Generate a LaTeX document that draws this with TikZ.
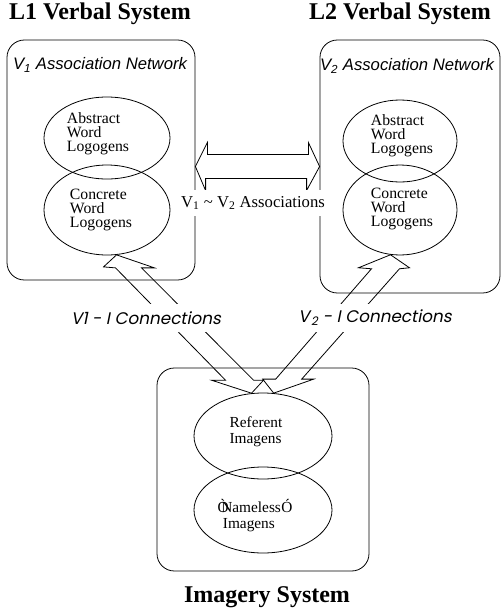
\documentclass[tikz,border=0pt]{standalone}
\usepackage{fontspec}
\setmainfont{Liberation Serif}
\setsansfont{Liberation Sans}
\newfontfamily\connfont[FakeSlant=0.2]{Poppins}
\usetikzlibrary{shapes.geometric,calc}

\tikzset{every picture/.style={line width=0.6pt}}
\tikzset{
  sysbox/.style={draw, rounded corners=13pt, inner sep=0pt},
  logo/.style={draw, ellipse, inner sep=0pt},
  logotext/.style={inner sep=0pt, align=left, font=\fontsize{11.8}{10.5}\selectfont},
  titlelab/.style={inner sep=0pt, font=\bfseries\fontsize{18}{20}\selectfont},
  netlab/.style={inner sep=0pt, font=\sffamily\itshape\fontsize{12.5}{14}\selectfont},
  connlab/.style={fill=white, inner xsep=2pt, inner ysep=0pt, minimum height=21pt, font=\connfont\fontsize{12.6}{14}\selectfont},
  assoclab/.style={fill=white, inner xsep=1pt, inner ysep=0pt, minimum height=20pt, font=\fontsize{12.5}{14}\selectfont}
}

\begin{document}
\begin{tikzpicture}[x=0.75pt,y=0.75pt,yscale=-1,xscale=1]
\useasboundingbox (0,0) rectangle (502,611);

% Text Node
\node (l1title) at (100,14) [titlelab] {L1 Verbal System};
% Text Node
\node (l2title) at (400,14) [titlelab] {L2 Verbal System};
% Text Node
\node (imtitle) at (267,597) [titlelab] {Imagery System};

%Shape: Rounded Rect
\node (box1) at (101,160) [sysbox, minimum width=141pt, minimum height=180pt] {};
%Shape: Rounded Rect
\node (box2) at (410,166.5) [sysbox, minimum width=135pt, minimum height=189.75pt] {};
%Shape: Rounded Rect
\node (box3) at (263,469.5) [sysbox, minimum width=159pt, minimum height=152.25pt] {};

% Text Node
\node (net1) at (100,65) [netlab] {V\textsubscript{1} Association Network};
% Text Node
\node (net2) at (407,66) [netlab] {V\textsubscript{2} Association Network};

%Shape: Ellipse
\node (abs1) at (107,138) [logo, minimum width=94.5pt, minimum height=61.5pt] {};
%Shape: Ellipse
\node (conc1) at (107,210) [logo, minimum width=94.5pt, minimum height=67.5pt] {};
%Shape: Ellipse
\node (abs2) at (400,141) [logo, minimum width=85.5pt, minimum height=61.5pt] {};
%Shape: Ellipse
\node (conc2) at (400,210) [logo, minimum width=85.5pt, minimum height=67.5pt] {};
%Shape: Ellipse
\node (ref) at (263,436) [logo, minimum width=103.5pt, minimum height=64.5pt] {};
%Shape: Ellipse
\node (nameless) at (263,510) [logo, minimum width=103.5pt, minimum height=64.5pt] {};

% Text Node
\node (abs1txt) at ($(abs1)+(-9,-4)$) [logotext] {Abstract\\Word\\Logogens};
% Text Node
\node (conc1txt) at ($(conc1)+(-6,0)$) [logotext, font=\fontsize{11.8}{10.3}\selectfont] {Concrete\\Word\\Logogens};
% Text Node
\node (abs2txt) at ($(abs2)+(2,-5)$) [logotext] {Abstract\\Word\\Logogens};
% Text Node
\node (conc2txt) at ($(conc2)+(2,-1)$) [logotext, font=\fontsize{11.8}{10.3}\selectfont] {Concrete\\Word\\Logogens};
% Text Node
\node (reftxt) at ($(ref)+(-7,-4)$) [logotext, font=\fontsize{11.5}{12}\selectfont] {Referent\\Imagens};
% Text Node
\node (namelesstxt) at ($(nameless)+(-8,6)$) [logotext, font=\fontsize{11.5}{12}\selectfont] {Ò\kern-5.5pt Nameless\kern0.3ptÓ\\\kern4pt Imagens};

% arrow ends
\coordinate (hl) at (box1.east |- box2.west);
\coordinate (hr) at (box2.west);
\coordinate (t1) at (conc1.-78);
\coordinate (b1) at (ref.105);
\coordinate (t2) at (conc2.-102);
\coordinate (b2) at (ref.76);

%Shape: Left-Right Arrow
\draw (hl) -- ++(12,-24) -- ++(0,12) -- ++(101,0) -- ++(0,-12) -- (hr) -- ++(-13,24) -- ++(0,-12) -- ++(-101,0) -- ++(0,12) -- cycle;
%Shape: Up-Down Arrow
\draw (t1) -- ($(t1)+(-13,12)$) -- ($(t1)+(-1,13)$) -- ($(b1)+(-26,-13)$) -- ($(b1)+(-40,-13)$) -- (b1) -- ($(b1)+(12,-13)$) -- ($(b1)+(2,-13)$) -- ($(t1)+(25,13)$) -- ($(t1)+(38,13)$) -- cycle;
%Shape: Up-Down Arrow
\draw (t2) -- ($(t2)+(-32,13)$) -- ($(t2)+(-19,14)$) -- ($(b2)+(2,-14)$) -- ($(b2)+(-11,-14)$) -- (b2) -- ($(b2)+(40,-14)$) -- ($(b2)+(28,-14)$) -- ($(t2)+(9,14)$) -- ($(t2)+(19,13)$) -- cycle;

% Text Node
\node (assoc) at (253,203) [assoclab] {V\textsubscript{1} \textasciitilde{} V\textsubscript{2} Associations};
% Text Node
\node (conn1) at (146,318) [connlab] {V1 - I Connections};
% Text Node
\node (conn2) at (375,318) [connlab] {V\kern1pt\textsubscript{2} - I Connections};

\end{tikzpicture}
\end{document}
